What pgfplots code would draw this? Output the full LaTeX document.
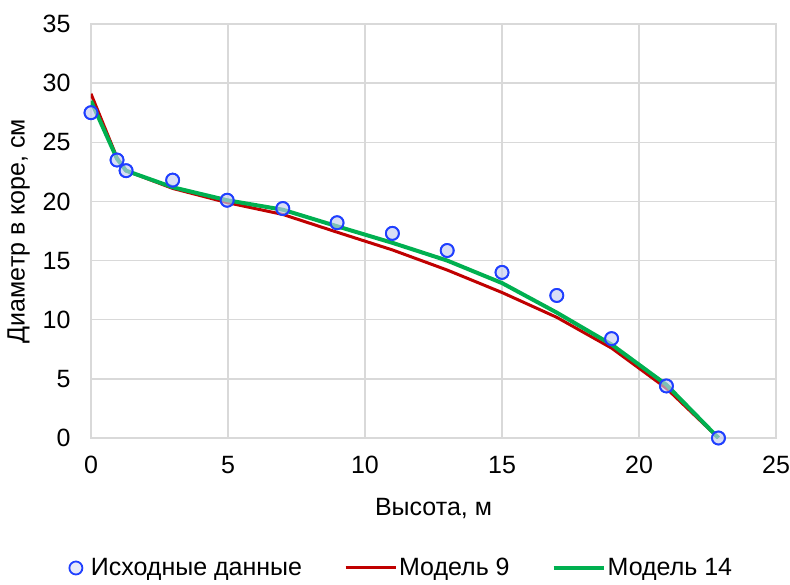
\documentclass[border=0pt]{standalone}
\usepackage{fontspec}
\setmainfont{Liberation Sans}
\usepackage{pgfplots}
\pgfplotsset{compat=1.18}
\definecolor{gridc}{HTML}{D9D9D9}
\definecolor{redm}{HTML}{C00000}
\definecolor{greenm}{HTML}{00B050}
\definecolor{bluem}{HTML}{1F3FFF}
\definecolor{fillm}{HTML}{C4CBF0}
\pgfplotsset{longline/.style={legend image code/.code={\draw[##1] (0bp,0bp) -- (50bp,0bp);}}}
\pgfplotsset{markimg/.style={legend image code/.code={\draw[##1] plot coordinates {(0bp,0bp)}; \path[draw=none] (-8bp,0bp) -- (13bp,0bp);}}}
\newcommand{\fs}{\fontsize{25bp}{29bp}\selectfont}
\begin{document}
\begin{tikzpicture}[font=\fs]
\begin{axis}[
  scale only axis,
  width=685bp, height=414bp,
  xmin=0, xmax=25, ymin=0, ymax=35,
  xtick={0,5,...,25}, ytick={0,5,...,35},
  grid=major,
  grid style={gridc, line width=1.3bp},
  axis line style={gridc, line width=1.3bp},
  tick style={draw=none},
  /pgf/number format/assume math mode=true,
  tick label style={font=\fs},
  xticklabel style={yshift=-15bp},
  yticklabel style={xshift=-17bp},
  label style={font=\fs},
  xlabel={Высота, м},
  ylabel={Диаметр в коре, см},
  xlabel style={yshift=-17bp},
  ylabel style={yshift=6bp},
  legend columns=3,
  legend style={draw=none, fill=none, font=\fs,
    at={(0.4526,-0.314)}, anchor=center,
    /tikz/every even column/.append style={column sep=40bp}},
]
\addplot[only marks, mark=*, mark size=6.5bp, mark options={draw=bluem, fill=fillm, fill opacity=0.4, line width=1.8bp}, markimg]
  coordinates {
  (0,27.5) (0.95,23.5) (1.28,22.6) (2.98,21.8) (4.97,20.1) (7.0,19.4)
  (8.98,18.2) (11.0,17.3) (13.0,15.85) (15.0,14.0) (17.0,12.05)
  (19.0,8.4) (21.0,4.4) (22.9,0)
  };
\addlegendentry{Исходные данные}
\addplot[redm, line width=3bp, longline] coordinates {
  (0,29.1) (0.95,23.7) (1.28,22.6) (2.98,21.1) (4.97,19.9) (7.0,18.9)
  (8.98,17.4) (11.0,15.9) (13.0,14.2) (15.0,12.3) (17.0,10.2)
  (19.0,7.6) (21.0,4.2) (22.9,0)
  };
\addlegendentry{Модель 9}
\addplot[greenm, line width=4bp, longline] coordinates {
  (0,28.5) (0.95,23.6) (1.28,22.6) (2.98,21.2) (4.97,20.1) (7.0,19.3)
  (8.98,17.9) (11.0,16.5) (13.0,15.0) (15.0,13.1) (17.0,10.6)
  (19.0,7.9) (21.0,4.5) (22.9,0)
  };
\addlegendentry{Модель 14}
\addplot[only marks, mark=*, mark size=6.5bp, mark options={draw=bluem, fill=fillm, fill opacity=0.4, line width=1.8bp}, forget plot]
  coordinates {
  (0,27.5) (0.95,23.5) (1.28,22.6) (2.98,21.8) (4.97,20.1) (7.0,19.4)
  (8.98,18.2) (11.0,17.3) (13.0,15.85) (15.0,14.0) (17.0,12.05)
  (19.0,8.4) (21.0,4.4) (22.9,0)
  };
\end{axis}
\pgfresetboundingbox
\useasboundingbox (-91bp,-147bp) rectangle (699bp,438bp);
\end{tikzpicture}
\end{document}
